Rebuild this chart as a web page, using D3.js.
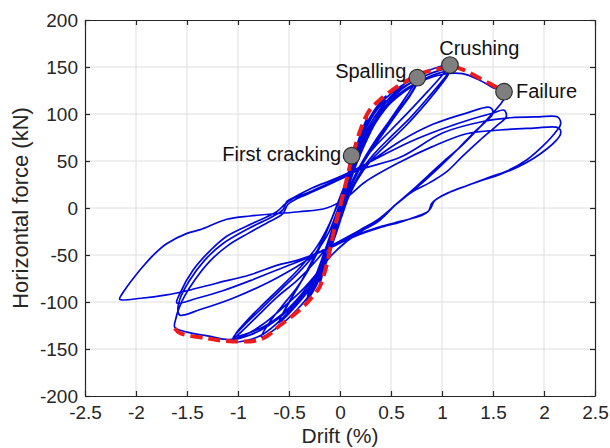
<!DOCTYPE html>
<html><head><meta charset="utf-8">
<script src="https://cdn.jsdelivr.net/npm/d3@7"></script>
<style>
body{margin:0;background:#fff}
svg{display:block}
text{font-family:"Liberation Sans",Arial,Helvetica,sans-serif}
</style>
</head><body>
<svg id="chart" width="610" height="448"></svg>
<script>
// ---------- data ----------
const xTicks = [-2.5,-2,-1.5,-1,-0.5,0,0.5,1,1.5,2,2.5];
const yTicks = [-200,-150,-100,-50,0,50,100,150,200];
const xLabel = "Drift (%)";
const yLabel = "Horizontal force (kN)";

// hysteresis cycles [drift %, force kN]
const cycleA1 = [[0,0],[0.04,17],[0.08,35],[0.114,52],[0.09,41],[0.05,23],[0.01,4],[-0.03,-14],[-0.06,-29],[-0.09,-41],[-0.065,-30],[-0.03,-13],[0.0,2]];
const cycleA2 = [[0.03,15],[0.07,32],[0.11,49],[0.085,37],[0.04,18],[0.0,-2],[-0.04,-20],[-0.08,-37],[-0.055,-25],[-0.02,-8],[0.01,6]];
const cycleB1 = [[0.06,28],[0.13,55],[0.2,78],[0.27,97],[0.24,87],[0.18,68],[0.11,44],[0.04,16],[-0.03,-12],[-0.09,-38],[-0.15,-62],[-0.2,-82],[-0.17,-70],[-0.12,-49],[-0.06,-24],[0.0,2]];
const cycleB2 = [[0.07,30],[0.14,56],[0.21,79],[0.27,93],[0.23,82],[0.16,60],[0.09,36],[0.02,8],[-0.05,-20],[-0.11,-45],[-0.16,-64],[-0.2,-78],[-0.16,-62],[-0.1,-40],[-0.04,-15],[0.01,6]];
const cycleC1 = [[0.07,32],[0.14,57],[0.23,83],[0.33,103],[0.45,119],[0.41,108],[0.33,90],[0.24,68],[0.15,44],[0.07,18],[-0.01,-8],[-0.08,-35],[-0.15,-60],[-0.23,-82],[-0.33,-100],[-0.28,-87],[-0.2,-65],[-0.12,-40],[-0.05,-14],[0.01,8]];
const cycleC2 = [[0.08,34],[0.16,60],[0.26,86],[0.36,104],[0.45,114],[0.4,102],[0.31,83],[0.22,62],[0.13,38],[0.05,12],[-0.03,-15],[-0.1,-42],[-0.18,-66],[-0.26,-84],[-0.32,-94],[-0.26,-78],[-0.18,-55],[-0.1,-30],[-0.03,-6],[0.02,10]];
const cycleD1 = [[0.08,36],[0.16,62],[0.25,86],[0.36,106],[0.5,122],[0.63,132],[0.76,139],[0.7,127],[0.6,111],[0.48,92],[0.36,74],[0.25,55],[0.15,35],[0.07,12],[-0.01,-14],[-0.08,-40],[-0.16,-65],[-0.27,-88],[-0.42,-108],[-0.6,-126],[-0.77,-137],[-0.68,-120],[-0.55,-102],[-0.43,-86],[-0.31,-66],[-0.19,-40],[-0.09,-14],[-0.01,8]];
const cycleD2 = [[0.08,34],[0.18,63],[0.3,90],[0.44,111],[0.6,127],[0.76,136],[0.7,123],[0.58,105],[0.45,86],[0.33,67],[0.21,47],[0.11,24],[0.03,0],[-0.05,-26],[-0.13,-52],[-0.24,-77],[-0.39,-99],[-0.6,-122],[-0.52,-104],[-0.4,-82],[-0.27,-56],[-0.15,-30],[-0.06,-6],[0.01,12]];
const cycleD3 = [[0.1,40],[0.21,68],[0.34,93],[0.5,114],[0.65,127],[0.75,132],[0.69,120],[0.57,102],[0.44,82],[0.31,62],[0.19,41],[0.09,18],[0.01,-6],[-0.07,-32],[-0.16,-58],[-0.28,-82],[-0.43,-100],[-0.55,-112],[-0.47,-95],[-0.36,-74],[-0.24,-49],[-0.12,-22],[-0.03,2]];
const cycleE1 = [[0.05,22],[0.12,46],[0.22,72],[0.34,97],[0.5,119],[0.67,135],[0.86,146],[1.078,152],[1.0,141],[0.86,124],[0.68,103],[0.5,83],[0.34,65],[0.22,49],[0.13,31],[0.05,8],[-0.03,-18],[-0.11,-44],[-0.21,-68],[-0.36,-93],[-0.56,-117],[-0.75,-134],[-0.92,-141],[-1.06,-142],[-0.96,-131],[-0.8,-114],[-0.62,-95],[-0.42,-77],[-0.25,-58],[-0.11,-38],[-0.02,-12],[0.04,12]];
const cycleE2 = [[0.12,42],[0.24,72],[0.4,102],[0.6,126],[0.84,141],[1.08,148],[1.0,135],[0.86,117],[0.68,95],[0.5,76],[0.33,57],[0.2,38],[0.1,16],[0.02,-8],[-0.06,-34],[-0.16,-60],[-0.3,-84],[-0.49,-107],[-0.7,-125],[-0.88,-135],[-1.05,-139],[-0.95,-126],[-0.78,-108],[-0.58,-87],[-0.4,-68],[-0.24,-48],[-0.11,-26],[-0.03,-4]];
const cycleE3 = [[0.06,22],[0.16,50],[0.3,82],[0.48,110],[0.7,130],[0.9,141],[1.07,145],[0.99,131],[0.84,111],[0.65,88],[0.47,69],[0.3,50],[0.17,30],[0.07,8],[-0.01,-16],[-0.1,-42],[-0.22,-68],[-0.38,-92],[-0.58,-114],[-0.8,-129],[-1.03,-136],[-0.93,-122],[-0.76,-103],[-0.56,-82],[-0.38,-62],[-0.22,-40],[-0.1,-16],[-0.02,6]];
const cycleF1 = [[0.06,28],[0.16,55],[0.3,85],[0.5,112],[0.75,132],[1.0,142],[1.2,143],[1.37,136],[1.5,128],[1.608,123],[1.61,117],[1.57,110],[1.44,94],[1.3,78],[1.18,65],[1.0,48],[0.86,34],[0.72,20],[0.55,4],[0.4,-10],[0.22,-24],[0.05,-37],[-0.08,-50],[-0.2,-66],[-0.36,-86],[-0.56,-106],[-0.76,-124],[-0.93,-135],[-1.08,-140],[-1.3,-136],[-1.5,-132],[-1.62,-127],[-1.61,-118],[-1.58,-107],[-1.52,-93],[-1.42,-76],[-1.28,-57],[-1.1,-40],[-0.9,-27],[-0.7,-15],[-0.56,-6],[-0.51,4],[-0.42,10],[-0.25,18],[-0.05,28],[0.12,37],[0.32,51],[0.59,71],[0.91,89],[1.24,101],[1.47,107]];
const cycleF2 = [[1.5,101],[1.42,91],[1.3,79],[1.15,62],[0.98,44],[0.82,28],[0.7,17],[0.54,3],[0.39,-11],[0.2,-23],[0.0,-35],[-0.2,-47],[-0.45,-64],[-0.72,-80],[-1.05,-96],[-1.37,-108],[-1.57,-114],[-1.59,-108],[-1.57,-97],[-1.48,-78],[-1.33,-56],[-1.15,-38],[-0.9,-22],[-0.66,-9],[-0.56,-2],[-0.52,7],[-0.44,12],[-0.28,21],[-0.05,31],[0.15,41],[0.4,55],[0.7,71],[1.0,84],[1.3,95],[1.5,101],[1.61,104]];
const cycleF3 = [[1.63,97],[1.54,88],[1.37,72],[1.2,55],[1.05,39],[0.88,27],[0.72,18],[0.55,4],[0.39,-13],[0.2,-25],[0.0,-36],[-0.25,-50],[-0.55,-63],[-0.85,-76],[-1.15,-88],[-1.4,-96],[-1.6,-101],[-1.57,-91],[-1.44,-66],[-1.27,-45],[-1.11,-30],[-0.85,-16],[-0.62,-4],[-0.54,4],[-0.46,10],[-0.3,17],[-0.05,29],[0.2,41],[0.59,54],[1.01,80],[1.4,92],[1.67,96],[1.95,97],[2.13,97],[2.16,93]];
const cycleG1 = [[2.16,88],[2.13,83],[2.07,75],[1.99,66],[1.83,51],[1.63,39],[1.47,33],[1.25,24],[1.08,17],[0.93,8],[0.89,0],[0.86,-4],[0.75,-9],[0.59,-15],[0.39,-21],[0.15,-30],[-0.05,-40],[-0.25,-49],[-0.43,-56],[-0.62,-61],[-0.88,-71],[-1.21,-80],[-1.5,-88],[-1.7,-92.5],[-1.95,-96],[-2.16,-97],[-2.14,-92],[-2.09,-84],[-2.02,-74],[-1.93,-62],[-1.82,-49],[-1.7,-38],[-1.5,-27],[-1.37,-23],[-1.11,-12],[-0.88,-8.5],[-0.62,-6],[-0.4,-4],[-0.13,0],[0.05,10],[0.25,28],[0.59,49],[0.9,65],[1.24,79],[1.57,83],[1.9,85],[2.12,86],[2.16,83],[2.16,78]];
const cycleG2 = [[2.12,72],[2.03,63],[1.9,53],[1.75,44],[1.55,35],[1.38,29],[1.2,22],[1.0,13],[0.9,5],[0.87,-3],[0.8,-8],[0.6,-14],[0.39,-20],[0.15,-29],[-0.05,-38]];

// backbone envelope (red dashed)
const envelope = [[-1.62,-128],[-1.57,-133],[-1.31,-138.6],[-1.05,-142],[-0.77,-139.5],[-0.59,-125],[-0.39,-108],[-0.3,-98],[-0.2,-84],[-0.16,-72],[-0.13,-60],[-0.09,-40],[-0.05,-20],[0.0,1],[0.065,30],[0.114,52],[0.21,86],[0.29,104],[0.39,115],[0.56,129],[0.7,138],[0.85,145],[1.05,150],[1.08,151],[1.21,147],[1.37,138],[1.49,131],[1.57,126],[1.608,123.7]];

// damage states
const stateNames = ["First cracking","Spalling","Crushing","Failure"];
const stateDrift = [0.114,0.758,1.078,1.608];
const stateForce = [55.6,138.6,152.1,123.7];

// ---------- drawing ----------
const W = 610, H = 448;
const plot = {left:85, right:595, top:20, bottom:396};
const labelLayout = [
  {dx:-10.5, dy:5,   anchor:"end"},
  {dx:-11,   dy:0.5, anchor:"end"},
  {dx:-10.7, dy:-10.5, anchor:"start"},
  {dx:12,    dy:6.6, anchor:"start"}
];
const axisColor = "#262626";
const fontFam = '"Liberation Sans", Arial, Helvetica, sans-serif';

const svg = d3.select("#chart");
const x = d3.scaleLinear().domain([-2.5,2.5]).range([plot.left,plot.right]);
const y = d3.scaleLinear().domain([-200,200]).range([plot.bottom,plot.top]);

svg.append("rect").attr("width",W).attr("height",H).attr("fill","#fff");

// grid
const grid = svg.append("g").attr("stroke","#dedede").attr("stroke-width",1);
grid.selectAll("line.gx").data(xTicks.slice(1,-1)).join("line")
  .attr("x1",d=>x(d)).attr("x2",d=>x(d)).attr("y1",plot.top).attr("y2",plot.bottom);
grid.selectAll("line.gy").data(yTicks.slice(1,-1)).join("line")
  .attr("y1",d=>y(d)).attr("y2",d=>y(d)).attr("x1",plot.left).attr("x2",plot.right);

// hysteresis curve
const allCycles = [].concat(cycleA1,cycleA2,cycleB1,cycleB2,cycleC1,cycleC2,cycleD1,cycleD2,cycleD3,cycleE1,cycleE2,cycleE3,cycleF1,cycleF2,cycleF3,cycleG1,cycleG2);
const line = d3.line().x(d=>x(d[0])).y(d=>y(d[1])).curve(d3.curveCatmullRom.alpha(0.5));
svg.append("path").datum(allCycles).attr("d",line)
  .attr("fill","none").attr("stroke","#0008dc").attr("stroke-width",1.7)
  .attr("stroke-linejoin","round");

// envelope
svg.append("path").datum(envelope).attr("d",line)
  .attr("fill","none").attr("stroke","#ef1a1a").attr("stroke-width",4)
  .attr("stroke-dasharray","12,6");

// markers
const states = stateNames.map((n,i)=>({name:n, d:stateDrift[i], f:stateForce[i], lay:labelLayout[i]}));
svg.append("g").selectAll("circle").data(states).join("circle")
  .attr("cx",d=>x(d.d)).attr("cy",d=>y(d.f)).attr("r",8.3)
  .attr("fill","#7f7f7f").attr("stroke","#2a2a2a").attr("stroke-width",1.2);
svg.append("g").selectAll("text").data(states).join("text")
  .attr("x",d=>x(d.d)+d.lay.dx).attr("y",d=>y(d.f)+d.lay.dy)
  .attr("text-anchor",d=>d.lay.anchor)
  .attr("font-size",20).attr("fill","#111").attr("font-family",fontFam)
  .text(d=>d.name);

// axes
function styleAxis(g){
  g.attr("font-family",fontFam).attr("font-size",19);
  g.select(".domain").attr("stroke",axisColor).attr("stroke-width",1.2);
  g.selectAll(".tick line").attr("stroke",axisColor).attr("stroke-width",1.2);
  g.selectAll(".tick text").attr("fill",axisColor);
}
const fmt = d => String(d);
svg.append("g").attr("transform",`translate(0,${plot.bottom})`)
  .call(d3.axisBottom(x).tickValues(xTicks).tickSize(-5).tickSizeOuter(0).tickPadding(10).tickFormat(fmt))
  .call(styleAxis);
svg.append("g").attr("transform",`translate(0,${plot.top})`)
  .call(d3.axisTop(x).tickValues(xTicks).tickSize(-5).tickSizeOuter(0).tickFormat(""))
  .call(styleAxis);
svg.append("g").attr("transform",`translate(${plot.left},0)`)
  .call(d3.axisLeft(y).tickValues(yTicks).tickSize(-5).tickSizeOuter(0).tickPadding(7).tickFormat(fmt))
  .call(styleAxis);
svg.append("g").attr("transform",`translate(${plot.right},0)`)
  .call(d3.axisRight(y).tickValues(yTicks).tickSize(-5).tickSizeOuter(0).tickFormat(""))
  .call(styleAxis);

// axis labels
svg.append("text").attr("x",(plot.left+plot.right)/2).attr("y",443)
  .attr("text-anchor","middle").attr("font-size",21).attr("fill",axisColor)
  .attr("font-family",fontFam).text(xLabel);
svg.append("text").attr("transform",`translate(27.5,${(plot.top+plot.bottom)/2}) rotate(-90)`)
  .attr("text-anchor","middle").attr("font-size",22).attr("fill",axisColor)
  .attr("font-family",fontFam).text(yLabel);
</script>
</body></html>
